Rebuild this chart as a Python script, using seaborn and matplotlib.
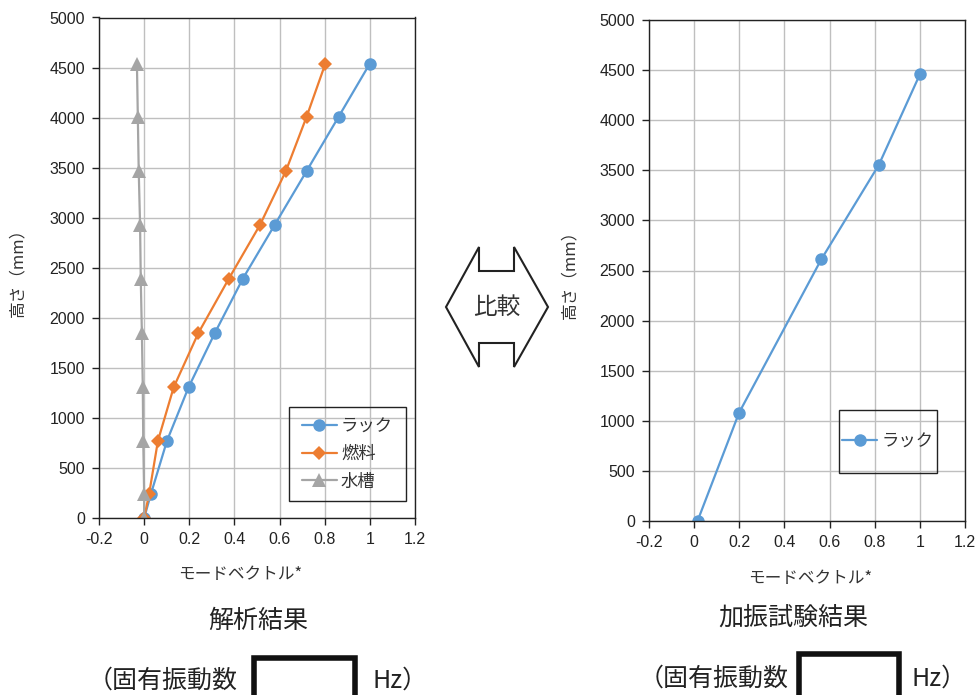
import matplotlib
matplotlib.use("Agg")
import matplotlib.pyplot as plt
from matplotlib.patches import Polygon, Rectangle
import seaborn as sns
import pandas as pd

# ---- data ----
heights_left = [0, 240, 770, 1307, 1847, 2390, 2927, 3467, 4010, 4540]
rack_left = [0.0, 0.03, 0.101, 0.197, 0.313, 0.437, 0.578, 0.72, 0.862, 1.0]
fuel_left = [0.0, 0.022, 0.061, 0.131, 0.24, 0.375, 0.513, 0.628, 0.72, 0.803]
tank_left = [0.0, 0.0, -0.004, -0.006, -0.01, -0.015, -0.018, -0.024, -0.028, -0.032]

heights_right = [0, 1080, 2610, 3553, 4457]
rack_right = [0.015, 0.199, 0.563, 0.818, 1.0]

series_names = ["ラック", "燃料", "水槽"]
xticks = [-0.2, 0, 0.2, 0.4, 0.6, 0.8, 1, 1.2]
xtick_labels = ["-0.2", "0", "0.2", "0.4", "0.6", "0.8", "1", "1.2"]
yticks = list(range(0, 5001, 500))

colors = ["#5B9BD5", "#ED7D31", "#A5A5A5"]
markers = ["o", "D", "^"]

sns.set_theme(style="white")
JP = ["Noto Sans CJK JP", "DejaVu Sans"]
NUM = ["Liberation Sans Narrow", "Liberation Sans", "DejaVu Sans"]
plt.rcParams["font.family"] = JP

W, H = 979, 695
fig = plt.figure(figsize=(W / 100, H / 100), dpi=100)


def rect(x0, y0, x1, y1):
    return [x0 / W, 1 - y1 / H, (x1 - x0) / W, (y1 - y0) / H]


def fp(x, y):
    return (x / W, 1 - y / H)


ax1 = fig.add_axes(rect(99, 17.5, 415, 518))
ax2 = fig.add_axes(rect(649, 20, 965, 521))

df_left = pd.DataFrame({
    "h": heights_left * 3,
    "v": rack_left + fuel_left + tank_left,
    "s": [series_names[0]] * len(heights_left) + [series_names[1]] * len(heights_left)
         + [series_names[2]] * len(heights_left),
})
ms = [9, 7.5, 9.5]
for i, name in enumerate(series_names):
    sub = df_left[df_left["s"] == name]
    sns.lineplot(data=sub, x="v", y="h", sort=False, estimator=None, ax=ax1,
                 color=colors[i], marker=markers[i], markersize=ms[i],
                 markeredgewidth=0, linewidth=1.6, label=name)

df_right = pd.DataFrame({"h": heights_right, "v": rack_right})
sns.lineplot(data=df_right, x="v", y="h", sort=False, estimator=None, ax=ax2,
             color=colors[0], marker="o", markersize=9, markeredgewidth=0,
             linewidth=1.6, label=series_names[0])

for ax in (ax1, ax2):
    ax.set_xlim(-0.2, 1.2)
    ax.set_ylim(0, 5000)
    ax.set_xticks(xticks)
    ax.set_xticklabels(xtick_labels, fontfamily=NUM, fontsize=11.5, color="#222222")
    ax.set_yticks(yticks)
    ax.set_yticklabels([str(t) for t in yticks], fontfamily=NUM, fontsize=11.5, color="#222222")
    ax.grid(True, color="#BFBFBF", linewidth=1.0)
    ax.set_axisbelow(True)
    for sp in ax.spines.values():
        sp.set_color("#222222")
        sp.set_linewidth(1.0)
    ax.tick_params(axis="both", which="both", direction="out", length=5, width=1,
                   color="#222222", pad=5, bottom=True, left=True)
    ax.set_xlabel("")
    ax.set_ylabel("")

# legends (frames drawn separately to match the reference box sizes)
box1 = (289, 407, 406, 501)
box2 = (839, 410, 937, 473)
cx1 = ((box1[0] + box1[2]) / 2 - 99) / 316
cy1 = (518 - (box1[1] + box1[3]) / 2) / 500.5
leg1 = ax1.legend(loc="center", bbox_to_anchor=(cx1, cy1), frameon=False, fontsize=12.5,
                  labelspacing=0.55, handlelength=2.0, handletextpad=0.25, borderpad=0)
cx2 = ((box2[0] + box2[2]) / 2 - 649) / 316
cy2 = (521 - (box2[1] + box2[3]) / 2) / 501
leg2 = ax2.legend(loc="center", bbox_to_anchor=(cx2, cy2), frameon=False, fontsize=12.5,
                  handlelength=2.0, handletextpad=0.25, borderpad=0)
for leg in (leg1, leg2):
    for t in leg.get_texts():
        t.set_color("#333333")

for (x0, y0, x1, y1) in (box1, box2):
    fig.add_artist(Rectangle(fp(x0, y1), (x1 - x0) / W, (y1 - y0) / H,
                             transform=fig.transFigure, fill=False,
                             edgecolor="#222222", linewidth=1.0, zorder=5))

# axis labels
fig.text(*fp(18, 268), "高さ（mm）", rotation=90, ha="center", va="center",
         fontsize=12, color="#333333")
fig.text(*fp(570, 270), "高さ（mm）", rotation=90, ha="center", va="center",
         fontsize=12, color="#333333")
fig.text(*fp(240, 575), "モードベクトル*", ha="center", va="center", fontsize=12, color="#333333")
fig.text(*fp(810, 578), "モードベクトル*", ha="center", va="center", fontsize=12, color="#333333")

# captions
fig.text(*fp(258, 621), "解析結果", ha="center", va="center", fontsize=18, color="#222222")
fig.text(*fp(793, 618), "加振試験結果", ha="center", va="center", fontsize=18, color="#222222")
fig.text(*fp(163, 681), "（固有振動数", ha="center", va="center", fontsize=18, color="#222222")
fig.text(*fp(400, 681), "Hz）", ha="center", va="center", fontsize=18, color="#222222")
fig.text(*fp(714, 679), "（固有振動数", ha="center", va="center", fontsize=18, color="#222222")
fig.text(*fp(939, 679), "Hz）", ha="center", va="center", fontsize=18, color="#222222")

# blank boxes
for (x0, y0, x1, y1) in [(254, 658, 355, 700), (799, 654, 899, 700)]:
    fig.add_artist(Rectangle(fp(x0, y1), (x1 - x0) / W, (y1 - y0) / H,
                             transform=fig.transFigure, fill=False,
                             edgecolor="#111111", linewidth=4))

# comparison double arrow
pts = [(446, 307), (479, 247), (479, 271), (514, 271), (514, 247), (548, 307),
       (514, 367), (514, 343), (479, 343), (479, 367)]
fig.add_artist(Polygon([fp(x, y) for x, y in pts], closed=True, fill=False,
                       edgecolor="#222222", linewidth=1.5, transform=fig.transFigure))
fig.text(*fp(497, 307), "比較", ha="center", va="center", fontsize=17, color="#333333")

fig.savefig("out.png", dpi=100)
